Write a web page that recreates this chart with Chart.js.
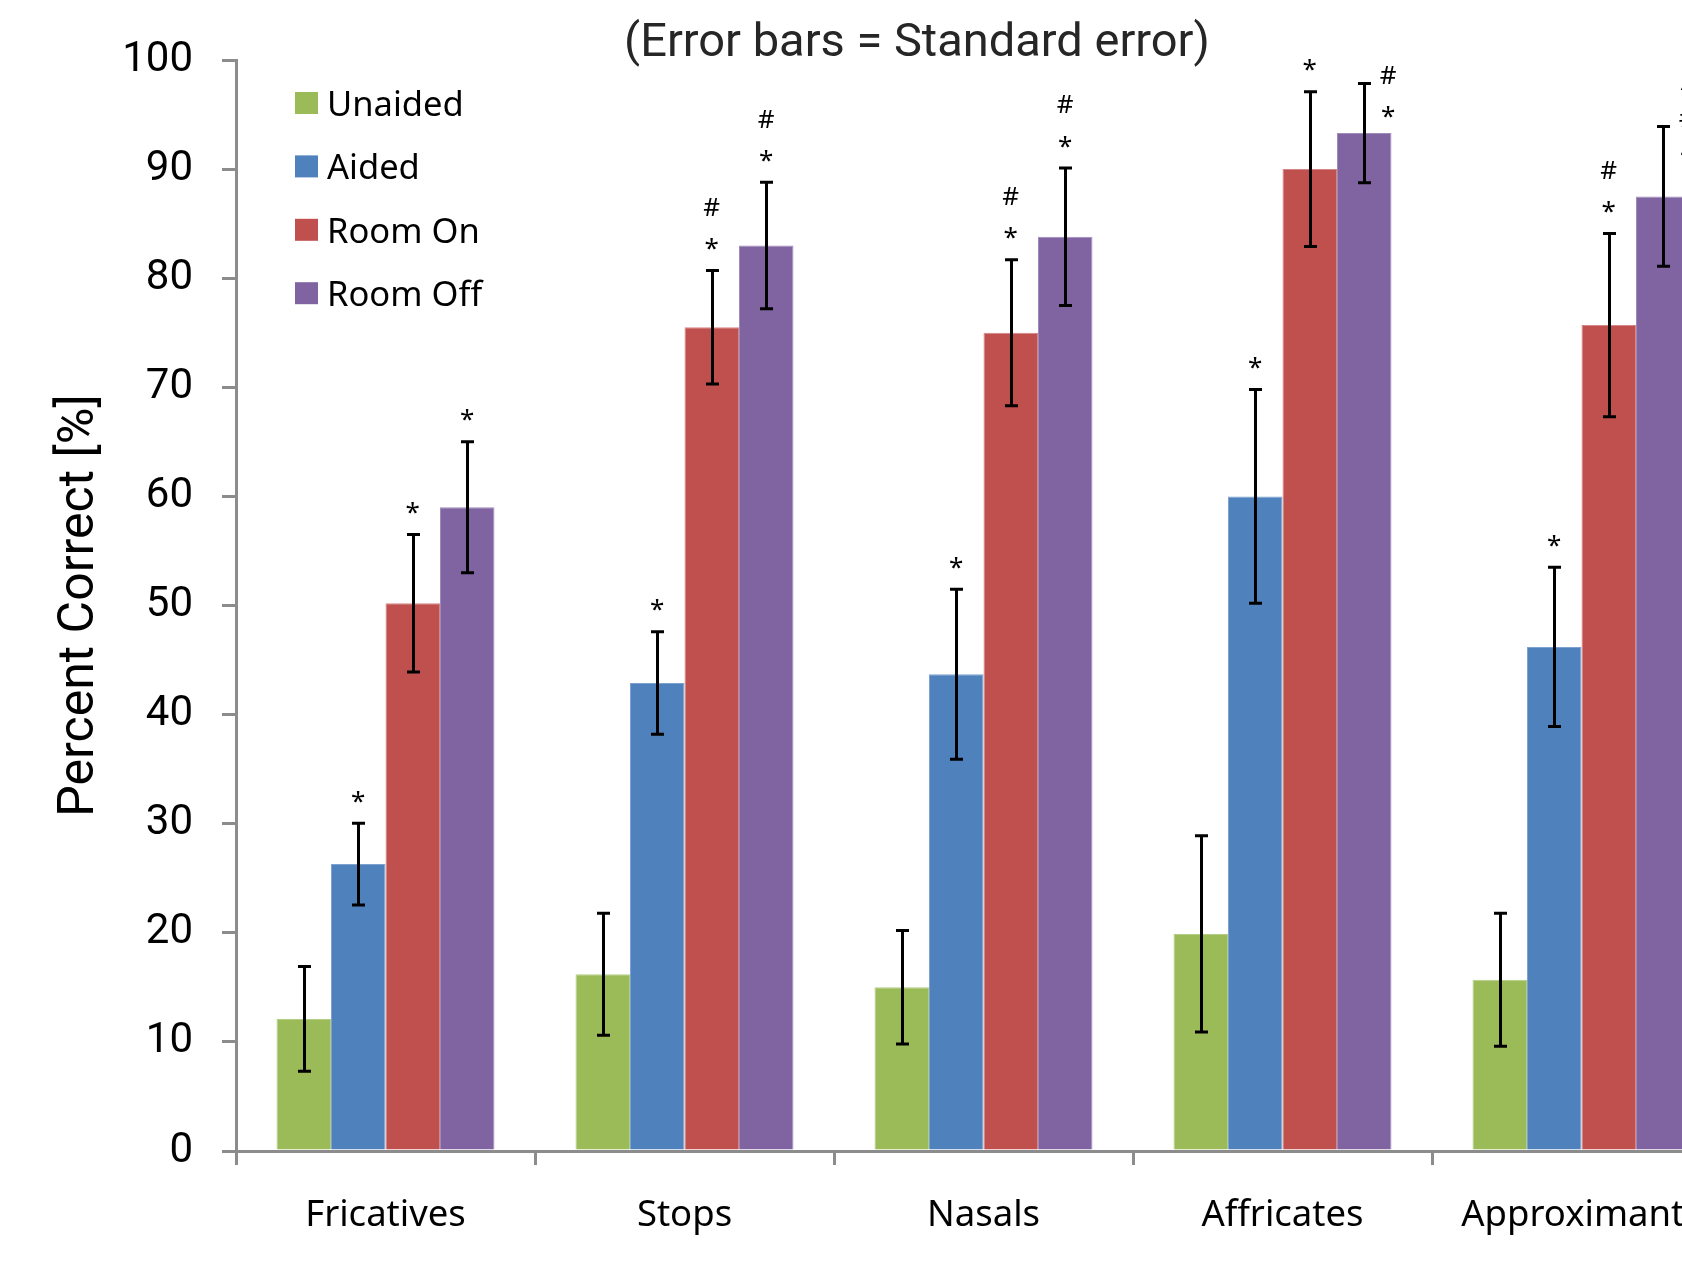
<!DOCTYPE html>
<html>
<head>
<meta charset="utf-8">
<title>Percent Correct by Consonant Category</title>
<script src="https://cdn.jsdelivr.net/npm/chart.js@4.4.1/dist/chart.umd.min.js"></script>
<style>
  html, body { margin: 0; padding: 0; background: #ffffff; overflow: hidden; }
  #wrap { width: 1682px; height: 1264px; overflow: hidden; position: relative; }
  canvas { position: absolute; left: 0; top: 0; }
</style>
</head>
<body>
<div id="wrap"><canvas id="chart" width="1760" height="1264"></canvas></div>
<script>
// Consonant categories on the x axis
const categories = ['Fricatives', 'Stops', 'Nasals', 'Affricates', 'Approximants'];

// Mean percent correct per listening condition
const unaided = [12.1, 16.2, 15.0, 19.9, 15.7];
const aided   = [26.3, 42.9, 43.7, 60.0, 46.2];
const roomOn  = [50.2, 75.5, 75.0, 90.0, 75.7];
const roomOff = [59.0, 83.0, 83.8, 93.3, 87.5];

// Standard errors
const unaidedSE = [4.8, 5.6, 5.2, 9.0, 6.1];
const aidedSE   = [3.75, 4.7, 7.8, 9.8, 7.3];
const roomOnSE  = [6.3, 5.2, 6.7, 7.1, 8.4];
const roomOffSE = [6.0, 5.8, 6.3, 4.55, 6.4];

// Significance markers, listed from the bottom of the stack upwards
const unaidedMarks = ['', '', '', '', ''];
const aidedMarks   = ['*', '*', '*', '*', '*'];
const roomOnMarks  = ['*', '*#', '*#', '*', '*#'];
const roomOffMarks = ['*', '*#', '*#', '*#', '*#^'];

// Y axis ticks
const yTicks = [0, 10, 20, 30, 40, 50, 60, 70, 80, 90, 100];

const AXIS_GREY = '#8c8c8c';
const NUM_FONT = 'Roboto';
const TEXT_FONT = '"Noto Sans"';

// Error bars (mean ± SE) drawn over each bar
const errorBars = {
  id: 'errorBars',
  afterDatasetsDraw(chart) {
    const ctx = chart.ctx, ys = chart.scales.y;
    ctx.save();
    ctx.strokeStyle = '#000';
    ctx.lineWidth = 3;
    chart.data.datasets.forEach((ds, i) => {
      chart.getDatasetMeta(i).data.forEach((bar, j) => {
        const hi = ys.getPixelForValue(ds.data[j] + ds.se[j]);
        const lo = ys.getPixelForValue(ds.data[j] - ds.se[j]);
        const x = Math.round(bar.x) + 0.5;
        ctx.beginPath();
        ctx.moveTo(x, hi); ctx.lineTo(x, lo);
        ctx.moveTo(x - 6.5, hi); ctx.lineTo(x + 6.5, hi);
        ctx.moveTo(x - 6.5, lo); ctx.lineTo(x + 6.5, lo);
        ctx.stroke();
      });
    });
    ctx.restore();
  }
};

// Significance symbols stacked above the error bars (beside them when near the top)
const sigMarks = {
  id: 'sigMarks',
  afterDatasetsDraw(chart) {
    const ctx = chart.ctx, ys = chart.scales.y;
    const size = 26;
    const lift = { '*': 0.52 * size, '#': 0.36 * size, '^': 0.62 * size };
    ctx.save();
    ctx.fillStyle = '#000';
    ctx.font = `${size}px ${TEXT_FONT}`;
    ctx.textAlign = 'center';
    ctx.textBaseline = 'alphabetic';
    chart.data.datasets.forEach((ds, i) => {
      chart.getDatasetMeta(i).data.forEach((bar, j) => {
        const syms = [...(ds.marks[j] || '')];
        if (!syms.length) return;
        const top = ys.getPixelForValue(ds.data[j] + ds.se[j]);
        const step = 37;
        let x = bar.x, base = top - 27;
        if (base - step * (syms.length - 1) < chart.chartArea.top - 20) {
          x = bar.x + 24;
          base = top + 28;
        }
        syms.forEach((s, k) => {
          const cy = base - k * step;
          ctx.fillText(s, x, cy + (lift[s] || 0.36 * size));
        });
      });
    });
    ctx.restore();
  }
};

// Legend in the upper-left corner of the plot
const cornerLegend = {
  id: 'cornerLegend',
  afterDraw(chart) {
    const ctx = chart.ctx;
    ctx.save();
    ctx.font = `34.5px ${TEXT_FONT}`;
    ctx.textBaseline = 'middle';
    ctx.textAlign = 'left';
    chart.data.datasets.forEach((ds, i) => {
      const y0 = 92 + i * 63.4;
      ctx.fillStyle = ds.backgroundColor;
      ctx.fillRect(295, y0, 23, 22);
      ctx.fillStyle = '#000';
      ctx.fillText(ds.label, 327, y0 + 14);
    });
    ctx.restore();
  }
};

// Subtitle line
const subtitleLine = {
  id: 'subtitleLine',
  afterDraw(chart) {
    const ctx = chart.ctx;
    ctx.save();
    ctx.font = `47px ${NUM_FONT}`;
    ctx.fillStyle = '#262626';
    ctx.textAlign = 'center';
    ctx.textBaseline = 'middle';
    ctx.fillText('(Error bars = Standard error)', 917, 44);
    ctx.restore();
  }
};

const series = [
  { label: 'Unaided',  data: unaided, se: unaidedSE, marks: unaidedMarks, color: '#9BBB59', edge: '#b4cd85' },
  { label: 'Aided',    data: aided,   se: aidedSE,   marks: aidedMarks,   color: '#4F81BD', edge: '#7ea2cf' },
  { label: 'Room On',  data: roomOn,  se: roomOnSE,  marks: roomOnMarks,  color: '#C0504D', edge: '#d48785' },
  { label: 'Room Off', data: roomOff, se: roomOffSE, marks: roomOffMarks, color: '#8064A2', edge: '#a08cbb' }
];

new Chart(document.getElementById('chart'), {
  type: 'bar',
  data: {
    labels: categories,
    datasets: series.map(s => ({
      label: s.label,
      data: s.data,
      se: s.se,
      marks: s.marks,
      backgroundColor: s.color,
      borderColor: s.edge,
      borderWidth: 1,
      barPercentage: 1.0,
      categoryPercentage: 0.729
    }))
  },
  options: {
    responsive: false,
    devicePixelRatio: 1,
    animation: false,
    layout: { padding: { top: 60, right: 29, left: 0, bottom: 0 } },
    plugins: {
      legend: { display: false },
      title: { display: false },
      tooltip: { enabled: false }
    },
    scales: {
      x: {
        offset: true,
        grid: {
          offset: true,
          drawOnChartArea: false,
          drawTicks: true,
          tickLength: 14,
          color: AXIS_GREY,
          lineWidth: 3
        },
        border: { color: AXIS_GREY, width: 3 },
        ticks: {
          color: '#000',
          padding: 29,
          maxRotation: 0,
          autoSkip: false,
          font: { family: 'Noto Sans', size: 36.5 }
        },
        afterFit(scale) { scale.height = 113; }
      },
      y: {
        min: 0,
        max: 100,
        afterBuildTicks(scale) { scale.ticks = yTicks.map(v => ({ value: v })); },
        grid: {
          drawOnChartArea: false,
          drawTicks: true,
          tickLength: 14,
          color: AXIS_GREY,
          lineWidth: 3
        },
        border: { color: AXIS_GREY, width: 3 },
        ticks: {
          color: '#000',
          padding: 29,
          font: { family: NUM_FONT, size: 42, weight: '400' }
        },
        title: {
          display: true,
          text: 'Percent Correct [%]',
          color: '#000',
          padding: { top: 50, bottom: 0 },
          font: { family: NUM_FONT, size: 50, weight: '400' }
        },
        afterFit(scale) { scale.width = 236; }
      }
    }
  },
  plugins: [errorBars, sigMarks, cornerLegend, subtitleLine]
});
</script>
</body>
</html>
